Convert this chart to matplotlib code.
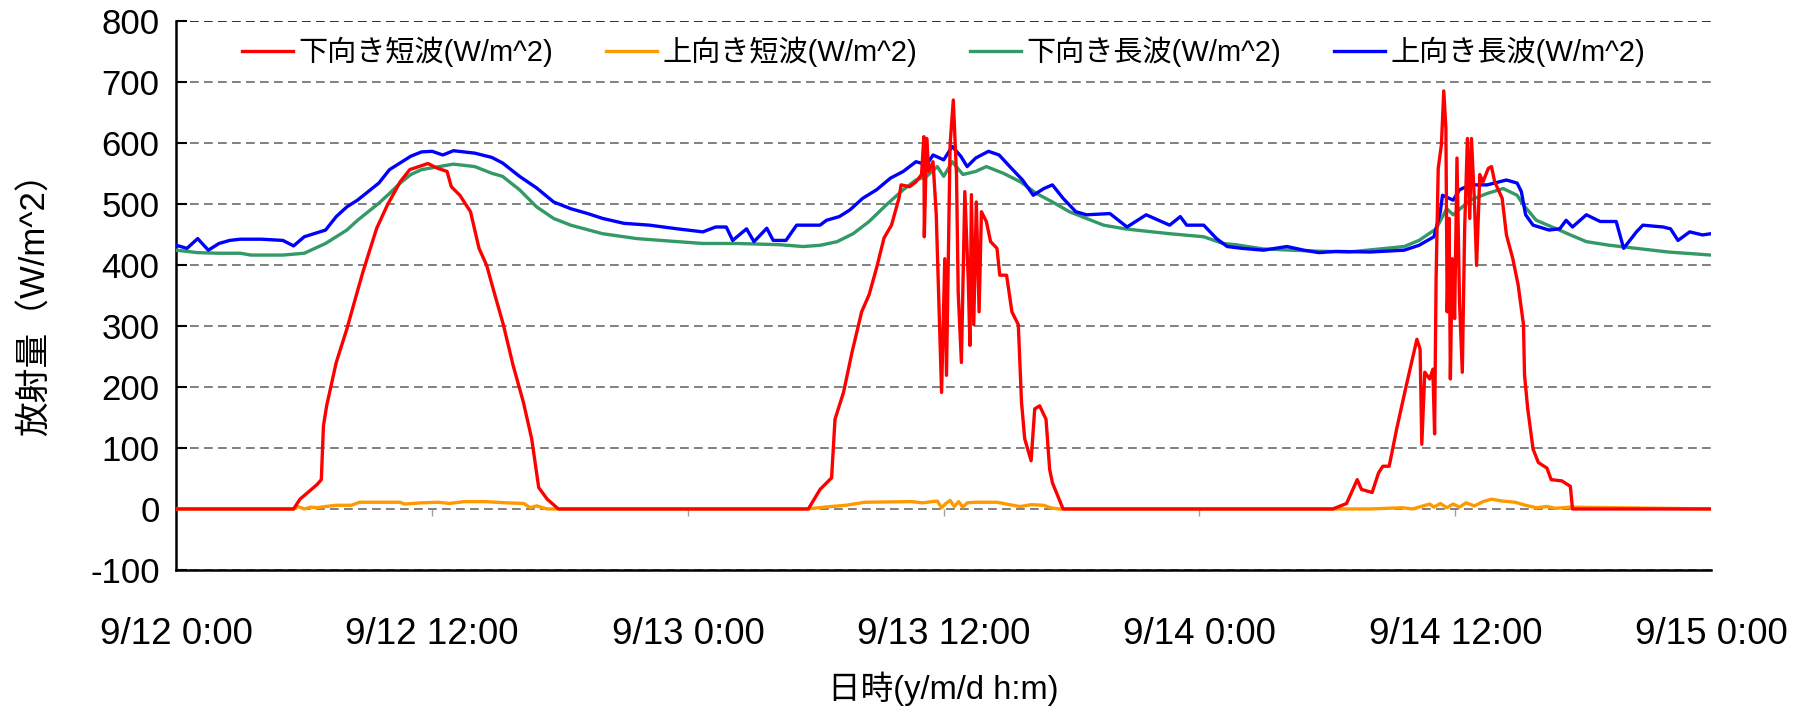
import matplotlib
matplotlib.use("Agg")
import matplotlib.pyplot as plt

plt.rcParams['font.family'] = ['Liberation Sans', 'Noto Sans CJK JP']
plt.rcParams['axes.unicode_minus'] = False

# hours from 9/12 0:00
tick_hours = [0, 12, 24, 36, 48, 60, 72]
tick_labels = ["9/12 0:00", "9/12 12:00", "9/13 0:00", "9/13 12:00",
               "9/14 0:00", "9/14 12:00", "9/15 0:00"]
y_ticks = [-100, 0, 100, 200, 300, 400, 500, 600, 700, 800]

series_names = ["下向き短波(W/m^2)", "上向き短波(W/m^2)",
                "下向き長波(W/m^2)", "上向き長波(W/m^2)"]

# 下向き短波
sw_down_t = [0, 5.5, 5.8, 6.6, 6.8, 6.9, 7.05, 7.5, 8, 8.4,
             8.75, 9, 9.4, 9.9, 10.5, 10.95, 11.8, 12.2, 12.7, 12.9,
             13.3, 13.8, 14.2, 14.56, 14.9, 15.34, 15.8, 16.28, 16.67, 17,
             17.4, 17.92, 29.65, 30.2, 30.74, 30.9, 31.3, 31.7, 32.15, 32.5,
             32.85, 33.2, 33.55, 33.9, 34.0, 34.4, 34.7, 34.96, 35.07, 35.09,
             35.2, 35.3, 35.5, 35.65, 35.9, 36.05, 36.13, 36.3, 36.45, 36.6,
             36.68, 36.83, 36.99, 37.15, 37.23, 37.3, 37.41, 37.53, 37.66, 37.77,
             38.0, 38.2, 38.5, 38.63, 38.95, 39.2, 39.5, 39.65, 39.8, 40.1,
             40.27, 40.5, 40.8, 40.97, 41.1, 41.6, 54.26, 54.9, 55.4, 55.6,
             56.1, 56.4, 56.6, 56.9, 57.25, 57.7, 58.2, 58.35, 58.43, 58.57,
             58.8, 58.95, 59.03, 59.1, 59.2, 59.35, 59.46, 59.56, 59.62, 59.71,
             59.77, 59.86, 59.97, 60.08, 60.2, 60.33, 60.44, 60.57, 60.68, 60.76,
             60.9, 61.0, 61.15, 61.3, 61.55, 61.7, 61.85, 62.2, 62.4, 62.7,
             62.95, 63.2, 63.25, 63.4, 63.65, 63.9, 64.3, 64.5, 65.0, 65.4,
             65.5, 72]
sw_down = [0, 0, 16, 40, 48, 136, 169, 240, 295, 345,
           388, 416, 460, 498, 536, 556, 566, 559, 553, 528,
           514, 487, 427, 399, 356, 302, 235, 175, 115, 35,
           16, 0, 0, 32, 51, 147, 191, 257, 323, 351,
           395, 444, 465, 509, 531, 528, 536, 548, 610, 446,
           607, 553, 569, 482, 191, 410, 219, 597, 670, 548,
           355, 240, 520, 377, 268, 515, 302, 503, 323, 487,
           471, 438, 427, 383, 383, 323, 302, 175, 115, 79,
           164, 169, 147, 65, 43, 0, 0, 9, 48, 32,
           27, 59, 70, 70, 131, 202, 278, 262, 106, 224,
           213, 229, 123, 377, 558, 597, 685, 624, 323, 476,
           213, 410, 312, 575, 339, 224, 459, 607, 476, 607,
           503, 399, 548, 536, 558, 561, 536, 509, 449, 410,
           367, 302, 219, 164, 98, 76, 67, 48, 46, 37,
           0, 0]

# 上向き短波
sw_up_t = [0, 5.5, 5.7, 6.0, 6.3, 6.6, 7.0, 7.5, 8.2, 8.6,
           10.5, 10.7, 11.5, 12.3, 12.8, 13.5, 14.5, 15.5, 16.3, 16.6,
           16.9, 17.4, 29.6, 30.4, 31.4, 32.3, 34.5, 35.0, 35.7, 35.9,
           36.1, 36.3, 36.5, 36.7, 36.9, 37.1, 37.5, 38.5, 39.4, 39.6,
           40.1, 40.7, 41.0, 41.4, 56.0, 57.5, 58.0, 58.5, 58.8, 59.0,
           59.3, 59.6, 59.9, 60.2, 60.5, 60.9, 61.3, 61.7, 62.2, 62.8,
           63.3, 63.8, 64.3, 64.7, 65.4, 72]
sw_up = [0, 0, 4, 0, 3, 2, 4, 6, 6, 11,
         11, 8, 10, 11, 9, 12, 12, 10, 9, 2,
         5, 0, 0, 3, 6, 11, 12, 10, 13, 2,
         9, 14, 4, 12, 3, 10, 11, 11, 5, 4,
         7, 6, 2, 0, 0, 2, 0, 5, 8, 3,
         9, 2, 8, 3, 10, 5, 12, 16, 13, 11,
         6, 2, 4, 1, 3, 0]

# 下向き長波
lw_down_t = [0, 1, 2, 3, 3.5, 5, 6, 7, 7.5, 8,
             8.5, 9, 9.5, 10, 10.5, 11, 11.5, 12, 13, 14,
             14.8, 15.3, 16.1, 16.9, 17.7, 18.5, 20, 21.6, 23.5, 24.7,
             26.3, 28.3, 29.4, 30.2, 31, 31.75, 32.5, 33.3, 34.1, 34.7,
             35.2, 35.7, 36, 36.4, 36.9, 37.5, 38, 38.8, 39.6, 40.35,
             41.1, 41.9, 42.7, 43.5, 44.5, 45, 46.6, 48.2, 49.1, 49.7,
             51, 53, 55, 57.6, 58.3, 59.1, 59.6, 59.9, 60.7, 61.5,
             62.25, 62.9, 63.2, 63.8, 64.75, 65.4, 66.15, 67.25, 68.5, 70,
             72]
lw_down = [424, 420, 419, 419, 416, 416, 419, 435, 446, 457,
           473, 487, 501, 517, 534, 548, 556, 559, 565, 561,
           550, 545, 523, 495, 476, 465, 451, 443, 438, 435,
           435, 433, 430, 432, 438, 451, 471, 498, 523, 539,
           545, 561, 545, 569, 548, 553, 561, 550, 536, 517,
           503, 487, 476, 465, 459, 457, 451, 446, 435, 433,
           426, 423, 421, 430, 440, 459, 492, 482, 506, 517,
           525, 514, 498, 473, 459, 449, 438, 432, 427, 421,
           416]

# 上向き長波
lw_up_t = [0, 0.5, 1, 1.5, 2, 2.5, 3, 4, 5, 5.5,
           6, 7, 7.5, 8, 8.5, 9, 9.5, 10, 10.5, 11,
           11.5, 12, 12.5, 13, 14, 14.8, 15.3, 16.1, 16.9, 17.7,
           18.5, 19.3, 20, 21, 22.2, 23.5, 24.7, 25.3, 25.8, 26.1,
           26.75, 27.1, 27.7, 28, 28.6, 29.1, 30.2, 30.5, 31.1, 31.6,
           32.2, 32.85, 33.5, 34.1, 34.7, 35.2, 35.5, 36, 36.4, 36.8,
           37.1, 37.5, 38.1, 38.6, 39.1, 39.7, 40.2, 40.7, 41.1, 41.6,
           42.2, 42.7, 43.8, 44.6, 45.5, 46.6, 47.1, 47.4, 48.2, 48.8,
           49.3, 50, 51, 52.1, 52.9, 53.6, 54.4, 56, 57.6, 58.3,
           59, 59.3, 59.4, 59.9, 60.2, 60.7, 61.5, 62.4, 62.9, 63.1,
           63.3, 63.65, 64.4, 64.9, 65.2, 65.5, 66.15, 66.8, 67.55, 67.9,
           68.5, 68.8, 69.75, 70.1, 70.45, 71, 71.6, 72]
lw_up = [432, 427, 443, 424, 435, 440, 442, 442, 440, 431,
         446, 457, 479, 495, 506, 520, 534, 556, 567, 578,
         585, 586, 580, 587, 583, 576, 567, 545, 526, 503,
         492, 484, 476, 468, 465, 459, 454, 462, 462, 440,
         459, 438, 460, 440, 440, 465, 465, 473, 479, 490,
         509, 523, 542, 553, 569, 564, 580, 572, 594, 578,
         561, 575, 586, 580, 561, 539, 514, 525, 531, 509,
         487, 482, 484, 462, 482, 465, 479, 465, 465, 443,
         430, 427, 424, 430, 424, 420, 422, 421, 424, 432,
         446, 487, 514, 506, 523, 531, 531, 539, 534, 520,
         482, 465, 457, 459, 473, 462, 482, 471, 471, 427,
         454, 465, 462, 459, 440, 454, 449, 451]

colors = ["#FF0000", "#FF9900", "#339966", "#0000FF"]

fig = plt.figure(figsize=(18.07, 7.07), dpi=100)
ax = fig.add_axes([0.0976, 0.1938, 0.8493, 0.7769])

ax.plot(sw_down_t, sw_down, color=colors[0], lw=2.4, label=series_names[0], zorder=6)
ax.plot(sw_up_t, sw_up, color=colors[1], lw=2.4, label=series_names[1], zorder=3)
ax.plot(lw_down_t, lw_down, color=colors[2], lw=2.4, label=series_names[2], zorder=4)
ax.plot(lw_up_t, lw_up, color=colors[3], lw=2.4, label=series_names[3], zorder=5)

ax.set_xlim(0, 72)
ax.set_ylim(-100, 800)
ax.set_yticks(y_ticks)
ax.set_xticks(tick_hours)
ax.set_xticklabels(tick_labels)

ax.yaxis.grid(True, color="#808080", linestyle=(0, (4.5, 2.7)), linewidth=1.4)
ax.get_ygridlines()[-1].set_color("#303030")
ax.set_axisbelow(True)

for s in ["top", "right"]:
    ax.spines[s].set_visible(False)
ax.spines["left"].set_linewidth(1.8)
ax.spines["bottom"].set_linewidth(1.8)

ax.tick_params(axis="y", direction="in", length=8, width=1.5, labelsize=25, pad=12)
ax.tick_params(axis="x", length=0, labelsize=26.5, pad=34)

# short tick marks on the category axis crossing at 0
sec = ax.secondary_xaxis(1 / 9)
sec.set_xticks(tick_hours[1:-1])
sec.tick_params(axis="x", direction="out", length=5, width=1, color="#a0a0a0", labelbottom=False)
sec.spines["bottom"].set_visible(False)

ax.set_ylabel("放射量（W/m^2）", fontsize=25)
ax.yaxis.set_label_coords(-0.081, 0.5)
ax.set_xlabel("日時(y/m/d h:m)", fontsize=23.5)
ax.xaxis.set_label_coords(0.5, -0.185)

ax.legend(loc="center", bbox_to_anchor=(0.5, 0.943), ncol=4, frameon=False,
          fontsize=21, handlelength=1.75, handletextpad=0.2, columnspacing=1.8)

fig.savefig("out.png", dpi=100)
